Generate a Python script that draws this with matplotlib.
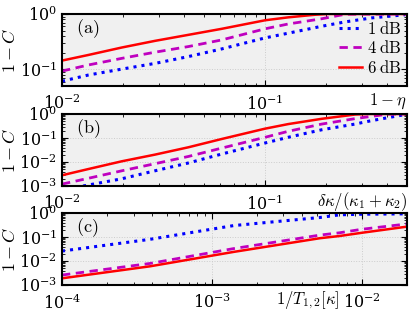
import numpy as np
import matplotlib
matplotlib.use("Agg")
import matplotlib.pyplot as plt

plt.rcParams['mathtext.fontset'] = 'cm'
plt.rcParams['font.family'] = 'serif'
plt.rcParams['font.serif'] = ['DejaVu Serif']

# --- data ---
labels = [r'$1\;\mathrm{dB}$', r'$4\;\mathrm{dB}$', r'$6\;\mathrm{dB}$']

# (a) vs 1 - eta
xa_1 = [0.01, 0.0135, 0.0197, 0.0287, 0.0419, 0.0612, 0.1, 0.13, 0.19, 0.248, 0.335, 0.49]
ya_1 = [0.061, 0.079, 0.101, 0.128, 0.17, 0.234, 0.37, 0.45, 0.60, 0.72, 0.85, 0.97]
xa_4 = [0.01, 0.0135, 0.0197, 0.0287, 0.0419, 0.0612, 0.1, 0.13, 0.19, 0.248, 0.5]
ya_4 = [0.093, 0.12, 0.158, 0.204, 0.258, 0.34, 0.54, 0.66, 0.82, 0.99, 1.0]
xa_6 = [0.01, 0.0135, 0.0197, 0.0287, 0.0419, 0.0612, 0.1, 0.13, 0.176, 0.205, 0.5]
ya_6 = [0.144, 0.182, 0.248, 0.327, 0.42, 0.54, 0.77, 0.87, 0.97, 1.0, 1.0]

# (b) vs delta kappa / (kappa1 + kappa2)
xb_1 = [0.0127, 0.0197, 0.0287, 0.0419, 0.0612, 0.1, 0.13, 0.19, 0.277, 0.335, 0.49]
yb_1 = [0.001, 0.002, 0.0043, 0.0091, 0.0215, 0.062, 0.107, 0.22, 0.38, 0.53, 0.95]
xb_4 = [0.01, 0.0135, 0.0197, 0.0287, 0.0419, 0.0612, 0.1, 0.13, 0.19, 0.277, 0.335, 0.405, 0.5]
yb_4 = [0.0012, 0.0021, 0.0043, 0.0085, 0.017, 0.038, 0.107, 0.19, 0.38, 0.64, 0.8, 0.99, 1.0]
xb_6 = [0.01, 0.0135, 0.0197, 0.0287, 0.0419, 0.0612, 0.1, 0.13, 0.19, 0.277, 0.323, 0.5]
yb_6 = [0.0028, 0.0051, 0.0107, 0.0203, 0.041, 0.091, 0.245, 0.38, 0.63, 0.95, 1.0, 1.0]

# (c) vs 1/T_{1,2}
xc = [1e-4, 3.86e-4, 1.4e-3, 5.25e-3, 7.1e-3, 1e-2, 2e-2]
yc_1 = [0.026, 0.080, 0.30, 0.65, 0.84, 0.89, 0.92]
yc_4 = [0.0026, 0.0079, 0.033, 0.12, 0.15, 0.21, 0.35]
yc_6 = [0.0019, 0.006, 0.024, 0.089, 0.11, 0.15, 0.27]

styles = [dict(color='b', ls=':', lw=2.2),
          dict(color='m', ls='--', lw=2.0, dashes=(3, 2)),
          dict(color='r', ls='-', lw=1.8)]

fig = plt.figure(figsize=(4.16, 3.18), dpi=100)
left = 62 / 416
width = 345 / 416
h = 72 / 318
bottoms = [1 - 86 / 318, 1 - 186 / 318, 1 - 285 / 318]

panels = [
    ([(xa_1, ya_1), (xa_4, ya_4), (xa_6, ya_6)], (0.01, 0.5), (0.05, 1), '(a)',
     r'$1-\eta$', 0.945),
    ([(xb_1, yb_1), (xb_4, yb_4), (xb_6, yb_6)], (0.01, 0.5), (1e-3, 1), '(b)',
     r'$\delta\kappa/(\kappa_1+\kappa_2)$', 0.87),
    ([(xc, yc_1), (xc, yc_4), (xc, yc_6)], (1e-4, 2e-2), (1e-3, 1), '(c)',
     r'$1/T_{1,2}[\kappa]$', 0.713),
]

for i, (curves, xl, yl, tag, xlab, xlpos) in enumerate(panels):
    ax = fig.add_axes([left, bottoms[i], width, h])
    ax.set_facecolor('#f0f0f0')
    for (x, y), st, lab in zip(curves, styles, labels):
        ax.plot(x, y, label=lab, **st)
    ax.set_xscale('log')
    ax.set_yscale('log')
    ax.set_xlim(*xl)
    ax.set_ylim(*yl)
    ax.grid(True, which='major', color='#cccccc', ls=':', lw=0.7)
    ax.tick_params(which='both', direction='in', top=True, right=True, labelsize=11.5)
    ax.tick_params(which='major', length=4, width=0.8)
    ax.tick_params(which='minor', length=2, width=0.6)
    ax.tick_params(axis='x', pad=6)
    for s in ax.spines.values():
        s.set_linewidth(1.5)
    ax.set_ylabel(r'$1-C$', fontsize=13)
    ax.yaxis.set_label_coords(-0.125, 0.5)
    ax.text(0.04, 0.8, r'$\mathrm{' + tag + '}$', transform=ax.transAxes,
            fontsize=13, va='center')
    ax.text(xlpos, -0.21, xlab, transform=ax.transAxes, fontsize=12,
            ha='center', va='center')
    if i == 0:
        ax.legend(loc='center right', bbox_to_anchor=(1.0, 0.52), frameon=False,
                  fontsize=12, handlelength=1.4, handletextpad=0.3,
                  labelspacing=0.15, borderpad=0.1, borderaxespad=0.2)

fig.savefig('out.png', dpi=100)
